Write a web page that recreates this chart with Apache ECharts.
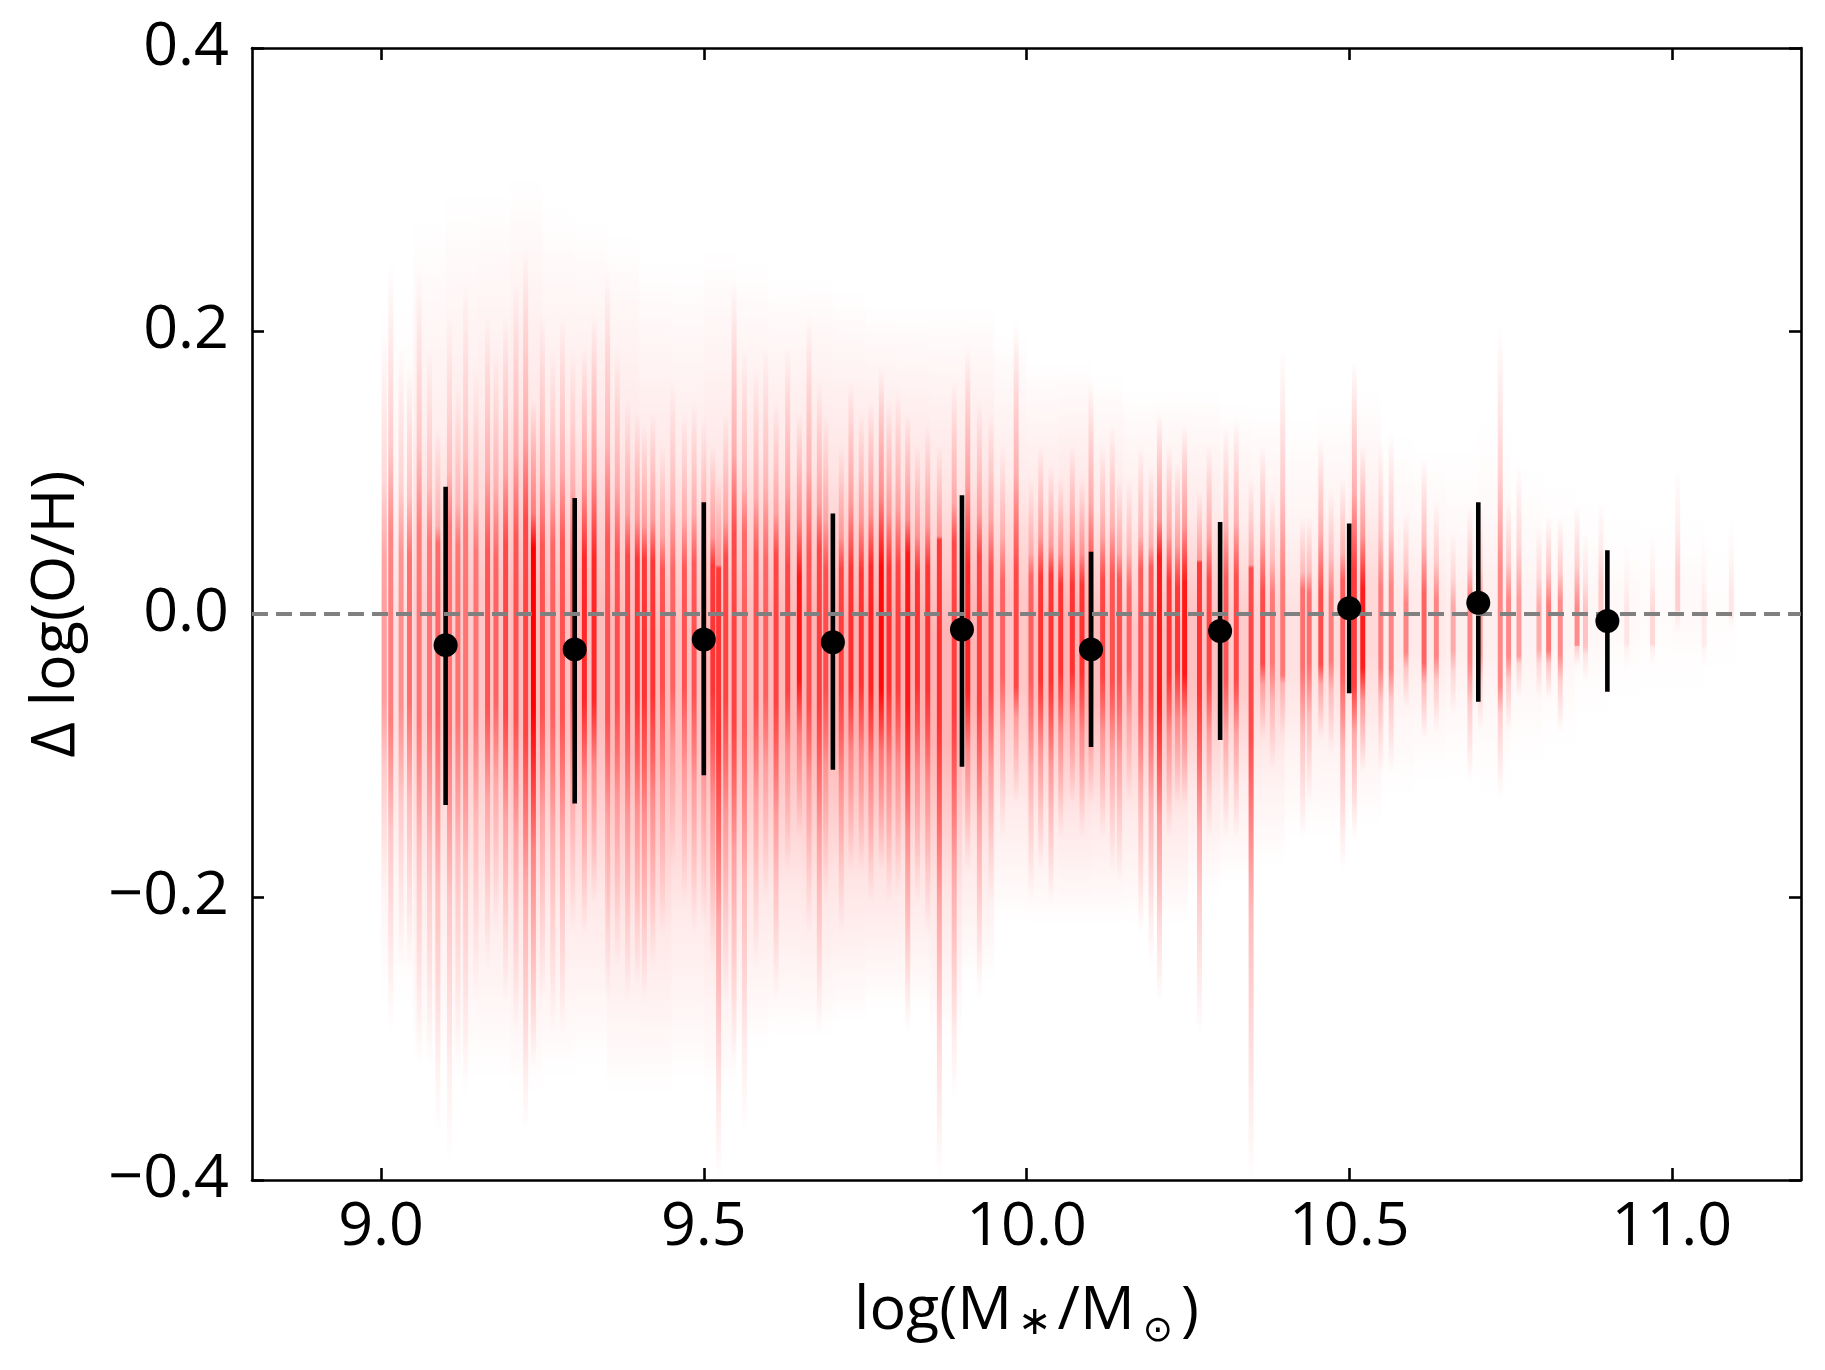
<!DOCTYPE html>
<html>
<head>
<meta charset="utf-8">
<script src="https://cdn.jsdelivr.net/npm/echarts@6/dist/echarts.min.js"></script>
<style>
html,body{margin:0;padding:0;background:#fff;}
#chart{width:1825px;height:1370px;}
</style>
</head>
<body>
<div id="chart"></div>
<script>
// ---- binned medians with 16-84 percentile bars ----
const binMass   = [9.1, 9.3, 9.5, 9.7, 9.9, 10.1, 10.3, 10.5, 10.7, 10.9];
const binMedian = [-0.022, -0.025, -0.018, -0.020, -0.011, -0.025, -0.012, 0.004, 0.008, -0.005];
const binHigh   = [0.090, 0.082, 0.079, 0.071, 0.084, 0.044, 0.065, 0.064, 0.079, 0.045];
const binLow    = [-0.135, -0.134, -0.114, -0.110, -0.108, -0.094, -0.089, -0.056, -0.062, -0.055];

// ---- diffuse spaxel cloud, per 0.05 dex mass bin ----
const hazeBinWidth = 0.05;
const hazeStart = [9.00,9.05,9.10,9.15,9.20,9.25,9.30,9.35,9.40,9.45,9.50,9.55,9.60,9.65,9.70,9.75,9.80,9.85,9.90,9.95,
                   10.00,10.05,10.10,10.15,10.20,10.25,10.30,10.35,10.40,10.45,10.50,10.55,10.60,10.65,10.70,10.75,10.80,10.85,10.90,10.95,11.00,11.05];
const hazeHi = [0.22,0.28,0.30,0.30,0.31,0.29,0.28,0.27,0.25,0.25,0.26,0.25,0.24,0.24,0.23,0.22,0.22,0.22,0.22,0.20,
                0.18,0.18,0.17,0.16,0.16,0.16,0.15,0.15,0.14,0.15,0.16,0.13,0.12,0.12,0.14,0.11,0.10,0.09,0.08,0.07,0.08,0.06];
const hazeLo = [-0.28,-0.32,-0.33,-0.33,-0.34,-0.33,-0.32,-0.34,-0.34,-0.33,-0.34,-0.31,-0.30,-0.30,-0.29,-0.28,-0.28,-0.30,-0.26,-0.22,
                -0.22,-0.22,-0.22,-0.22,-0.22,-0.20,-0.19,-0.18,-0.16,-0.16,-0.15,-0.13,-0.12,-0.12,-0.13,-0.11,-0.10,-0.08,-0.07,-0.06,-0.06,-0.05];
const hazeAlpha = [0.15,0.22,0.24,0.26,0.30,0.28,0.30,0.32,0.32,0.28,0.30,0.30,0.32,0.34,0.36,0.38,0.36,0.34,0.33,0.26,
                   0.30,0.34,0.30,0.26,0.30,0.28,0.24,0.20,0.14,0.16,0.18,0.10,0.10,0.08,0.08,0.06,0.05,0.04,0.03,0.02,0.03,0.015];

// ---- individual galaxy streaks (mass, upper and lower extent, strength) ----
const streakMass = [9.005,9.015,9.031,9.044,9.059,9.075,9.088,9.106,9.119,9.131,
  9.147,9.165,9.178,9.193,9.209,9.224,9.236,9.250,9.266,9.281,
  9.297,9.315,9.330,9.351,9.366,9.382,9.397,9.408,9.421,9.436,
  9.452,9.470,9.485,9.500,9.514,9.523,9.534,9.547,9.563,9.581,
  9.596,9.612,9.630,9.648,9.663,9.679,9.689,9.713,9.728,9.744,
  9.759,9.775,9.787,9.801,9.816,9.831,9.847,9.865,9.888,9.909,
  9.927,9.945,9.963,9.984,10.007,10.022,10.038,10.053,10.071,10.086,
  10.100,10.118,10.133,10.144,10.159,10.177,10.193,10.206,10.221,10.234,
  10.245,10.268,10.283,10.309,10.325,10.348,10.366,10.381,10.397,10.428,
  10.438,10.456,10.472,10.490,10.508,10.521,10.549,10.565,10.588,10.616,
  10.635,10.661,10.687,10.703,10.734,10.747,10.763,10.794,10.809,10.827,
  10.853,10.866,10.890,10.930,10.970,11.009,11.050,11.092];
const streakHi = [0.199,0.250,0.189,0.175,0.245,0.189,0.134,0.212,0.166,0.236,
  0.175,0.212,0.189,0.212,0.236,0.259,0.152,0.212,0.189,0.212,
  0.189,0.189,0.212,0.245,0.189,0.152,0.143,0.134,0.143,0.120,
  0.166,0.143,0.152,0.140,0.120,0.097,0.143,0.236,0.189,0.175,
  0.189,0.152,0.189,0.143,0.212,0.166,0.143,0.120,0.166,0.143,
  0.152,0.175,0.152,0.160,0.143,0.120,0.134,0.120,0.166,0.189,
  0.152,0.143,0.120,0.208,0.097,0.120,0.106,0.097,0.120,0.097,
  0.166,0.120,0.134,0.097,0.097,0.120,0.106,0.143,0.120,0.106,
  0.134,0.087,0.120,0.134,0.138,0.097,0.120,0.087,0.189,0.069,
  0.069,0.124,0.090,0.097,0.180,0.120,0.120,0.129,0.073,0.110,
  0.081,0.058,0.077,0.077,0.204,0.081,0.105,0.062,0.069,0.069,
  0.077,0.058,0.081,0.050,0.058,0.105,0.060,0.069];
const streakLo = [-0.205,-0.298,-0.251,-0.251,-0.321,-0.321,-0.368,-0.391,-0.321,-0.344,
  -0.275,-0.251,-0.228,-0.275,-0.298,-0.368,-0.321,-0.275,-0.298,-0.298,
  -0.228,-0.228,-0.205,-0.275,-0.251,-0.275,-0.265,-0.275,-0.251,-0.228,
  -0.182,-0.205,-0.228,-0.220,-0.251,-0.400,-0.275,-0.321,-0.368,-0.251,
  -0.205,-0.275,-0.182,-0.159,-0.228,-0.298,-0.205,-0.228,-0.182,-0.182,
  -0.205,-0.182,-0.205,-0.200,-0.298,-0.205,-0.228,-0.400,-0.344,-0.182,
  -0.275,-0.205,-0.159,-0.135,-0.205,-0.182,-0.205,-0.159,-0.135,-0.159,
  -0.135,-0.159,-0.182,-0.191,-0.135,-0.228,-0.251,-0.275,-0.159,-0.135,
  -0.135,-0.298,-0.159,-0.159,-0.159,-0.400,-0.089,-0.112,-0.089,-0.159,
  -0.135,-0.089,-0.100,-0.182,-0.159,-0.112,-0.112,-0.112,-0.066,-0.089,
  -0.084,-0.072,-0.119,-0.084,-0.131,-0.084,-0.060,-0.060,-0.060,-0.084,
  -0.037,-0.048,-0.013,-0.040,-0.037,-0.013,-0.040,-0.013];
const streakAlpha = [0.20,0.30,0.25,0.35,0.30,0.30,0.35,0.30,0.30,0.30,
  0.30,0.40,0.35,0.45,0.40,0.45,0.70,0.40,0.35,0.40,
  0.35,0.55,0.55,0.40,0.40,0.45,0.50,0.50,0.50,0.40,
  0.35,0.40,0.40,0.40,0.50,0.50,0.45,0.45,0.35,0.40,
  0.35,0.45,0.45,0.60,0.40,0.45,0.40,0.45,0.50,0.50,
  0.55,0.65,0.50,0.45,0.60,0.50,0.50,0.50,0.45,0.55,
  0.45,0.40,0.35,0.45,0.35,0.50,0.50,0.50,0.50,0.50,
  0.45,0.45,0.40,0.40,0.35,0.40,0.40,0.60,0.50,0.50,
  0.60,0.50,0.45,0.40,0.45,0.45,0.45,0.30,0.30,0.35,
  0.35,0.45,0.30,0.40,0.50,0.60,0.30,0.30,0.30,0.40,
  0.30,0.20,0.30,0.25,0.30,0.30,0.25,0.20,0.35,0.30,
  0.30,0.15,0.12,0.06,0.10,0.12,0.05,0.06];

// ---- axes ----
const xRange = [8.8, 11.2];
const yRange = [-0.4, 0.4];
const xTicks = [9.0, 9.5, 10.0, 10.5, 11.0];
const yTicks = [-0.4, -0.2, 0.0, 0.2, 0.4];
const refLevel = 0;

const FONT = 'Open Sans';
const AXIS_W = 2.6;
const STREAK_GAIN = 1.45;   // rendering opacity gain for streaks
const HAZE_GAIN = 0.85;     // rendering opacity gain for the diffuse layer
const STREAK_W = 5;

function red(a) { return 'rgba(255,0,0,' + Math.max(0, Math.min(1, a)).toFixed(3) + ')'; }

function hazeItem(params, api) {
  const x0 = api.value(0), x1 = x0 + hazeBinWidth;
  const p0 = api.coord([x0, api.value(1)]);
  const p1 = api.coord([x1, api.value(2)]);
  const a = api.value(3) * HAZE_GAIN;
  return {
    type: 'rect',
    shape: { x: p0[0], y: p0[1], width: p1[0] - p0[0], height: p1[1] - p0[1] },
    style: {
      fill: new echarts.graphic.LinearGradient(0, 0, 0, 1, [
        { offset: 0, color: red(0) },
        { offset: 0.25, color: red(a * 0.35) },
        { offset: 0.45, color: red(a) },
        { offset: 0.6, color: red(a) },
        { offset: 0.8, color: red(a * 0.35) },
        { offset: 1, color: red(0) }
      ])
    }
  };
}

function streakItem(params, api) {
  const m = api.value(0), hi = api.value(1), lo = api.value(2), a = api.value(3) * STREAK_GAIN;
  const pTop = api.coord([m, hi]);
  const pBot = api.coord([m, lo]);
  let c = (hi - (-0.01)) / (hi - lo);
  c = Math.max(0.25, Math.min(0.75, c));
  return {
    type: 'rect',
    shape: { x: pTop[0] - STREAK_W / 2, y: pTop[1], width: STREAK_W, height: pBot[1] - pTop[1] },
    style: {
      fill: new echarts.graphic.LinearGradient(0, 0, 0, 1, [
        { offset: 0, color: red(0) },
        { offset: c * 0.5, color: red(a * 0.4) },
        { offset: Math.max(0, c - 0.12), color: red(a) },
        { offset: Math.min(1, c + 0.12), color: red(a) },
        { offset: c + (1 - c) * 0.5, color: red(a * 0.4) },
        { offset: 1, color: red(0) }
      ])
    }
  };
}

function errItem(params, api) {
  const m = api.value(0);
  const pHi = api.coord([m, api.value(2)]);
  const pLo = api.coord([m, api.value(3)]);
  return {
    type: 'line',
    shape: { x1: pHi[0], y1: pHi[1], x2: pLo[0], y2: pLo[1] },
    style: { stroke: '#000', lineWidth: 4.6 }
  };
}

const yFmt = v => (v < -1e-9 ? '\u2212' : '') + Math.abs(v).toFixed(1);

const baseAxisLine = { show: true, onZero: false, lineStyle: { color: '#000', width: AXIS_W } };
const baseTick = (vals) => ({ show: true, inside: true, length: 12, lineStyle: { color: '#000', width: AXIS_W }, customValues: vals });

const chart = echarts.init(document.getElementById('chart'), null, { renderer: 'canvas' });
chart.setOption({
  animation: false,
  backgroundColor: '#fff',
  grid: { left: 252, top: 48, width: 1549, height: 1132, containLabel: false, outerBoundsMode: 'none' },
  xAxis: [
    {
      type: 'value', min: xRange[0], max: xRange[1], position: 'bottom',
      axisLine: baseAxisLine, axisTick: baseTick(xTicks), splitLine: { show: false },
      axisLabel: { customValues: xTicks, formatter: v => v.toFixed(1), color: '#000', fontFamily: FONT, fontSize: 61, margin: 17 },
      name: '{n|log(M}{s|\u2217}{n|/M}{o|\u2299}{n|)}',
      nameLocation: 'middle', nameGap: 96,
      nameTextStyle: {
        color: '#000', fontFamily: FONT, fontSize: 61,
        rich: {
          n: { fontFamily: FONT, fontSize: 61, color: '#000', lineHeight: 72, verticalAlign: 'middle' },
          s: { fontFamily: 'DejaVu Sans', fontSize: 40, color: '#000', lineHeight: 40, padding: [24, 6, 0, 6], verticalAlign: 'middle' },
          o: { fontFamily: 'DejaVu Sans', fontSize: 36, color: '#000', lineHeight: 36, padding: [40, 8, 0, 8], verticalAlign: 'middle' }
        }
      }
    },
    {
      type: 'value', min: xRange[0], max: xRange[1], position: 'top',
      axisLine: baseAxisLine, axisTick: baseTick(xTicks), splitLine: { show: false },
      axisLabel: { show: false }
    }
  ],
  yAxis: [
    {
      type: 'value', min: yRange[0], max: yRange[1], position: 'left',
      axisLine: baseAxisLine, axisTick: baseTick(yTicks), splitLine: { show: false },
      axisLabel: { customValues: yTicks, formatter: yFmt, color: '#000', fontFamily: FONT, fontSize: 61, margin: 23 },
      name: '\u0394 log(O/H)', nameLocation: 'middle', nameGap: 165, nameRotate: 90,
      nameTextStyle: { color: '#000', fontFamily: FONT, fontSize: 61 }
    },
    {
      type: 'value', min: yRange[0], max: yRange[1], position: 'right',
      axisLine: baseAxisLine, axisTick: baseTick(yTicks), splitLine: { show: false },
      axisLabel: { show: false }
    }
  ],
  series: [
    {
      name: 'haze', type: 'custom', xAxisIndex: 0, yAxisIndex: 0, clip: true, silent: true, z: 1,
      renderItem: hazeItem,
      data: hazeStart.map((m, i) => [m, hazeHi[i], hazeLo[i], hazeAlpha[i]])
    },
    {
      name: 'spaxels', type: 'custom', xAxisIndex: 0, yAxisIndex: 0, clip: true, silent: true, z: 2,
      renderItem: streakItem,
      data: streakMass.map((m, i) => [m, streakHi[i], streakLo[i], streakAlpha[i]])
    },
    {
      name: 'ref', type: 'line', xAxisIndex: 0, yAxisIndex: 0, data: [], z: 3,
      markLine: {
        silent: true, symbol: ['none', 'none'], label: { show: false },
        lineStyle: { color: '#808080', width: 4, type: [16, 8] },
        data: [{ yAxis: refLevel }]
      }
    },
    {
      name: 'errors', type: 'custom', xAxisIndex: 0, yAxisIndex: 0, z: 4, silent: true,
      renderItem: errItem,
      data: binMass.map((m, i) => [m, binMedian[i], binHigh[i], binLow[i]])
    },
    {
      name: 'median', type: 'scatter', xAxisIndex: 0, yAxisIndex: 0, z: 5,
      symbol: 'circle', symbolSize: 24, itemStyle: { color: '#000', opacity: 1 },
      data: binMass.map((m, i) => [m, binMedian[i]])
    }
  ]
});
</script>
</body>
</html>
